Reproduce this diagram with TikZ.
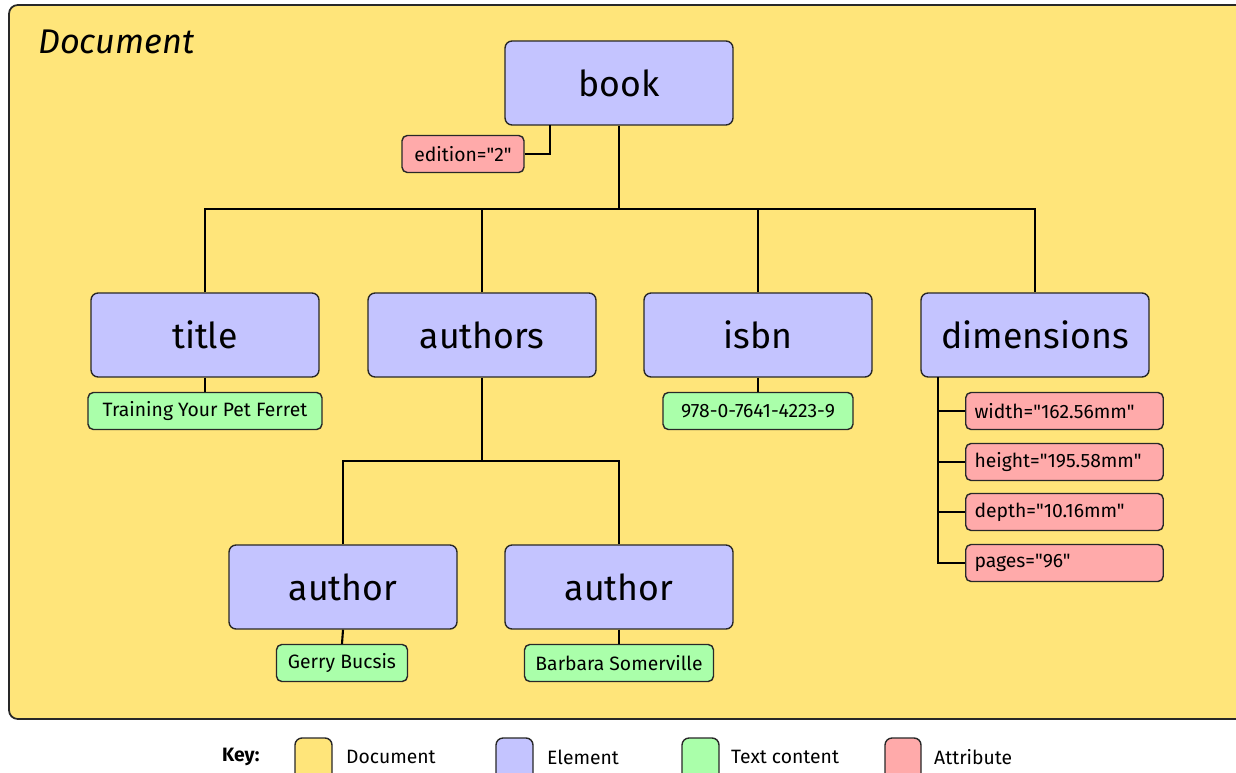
\documentclass[tikz,border=0pt]{standalone}
\usepackage{fontspec}
\setmainfont{Fira Sans}[Ligatures=TeXOff]
\definecolor{docyellow}{RGB}{255,229,122}
\definecolor{elemblue}{RGB}{196,196,255}
\definecolor{textgreen}{RGB}{170,255,170}
\definecolor{attrred}{RGB}{255,170,170}
\definecolor{edgegray}{RGB}{40,40,40}

\begin{document}
\begin{tikzpicture}[x=0.02cm, y=-0.02cm,
    element/.style={draw=edgegray, line width=0.8pt, fill=elemblue, rounded corners=4pt,
      minimum width=4.56cm, minimum height=1.68cm, font=\fontsize{20.3}{24}\selectfont},
    textbox/.style={draw=edgegray, line width=0.8pt, fill=textgreen, rounded corners=3pt,
      minimum height=0.74cm, inner xsep=4pt, font=\fontsize{11}{13}\selectfont},
    attrib/.style={draw=edgegray, line width=0.8pt, fill=attrred, rounded corners=3pt,
      minimum height=0.74cm, inner xsep=5pt, font=\fontsize{11}{13}\selectfont},
    attrwide/.style={attrib, anchor=west, text width=3.6cm, align=left},
    swatch/.style={draw=edgegray, line width=0.8pt, rounded corners=4pt},
    keytext/.style={anchor=west, font=\fontsize{11}{13}\selectfont},
    conn/.style={draw=black, line width=1.2pt}]
  \useasboundingbox (0,0) rectangle (1236,773);
  \fill[white] (0,0) rectangle (1236,773);

  % document frame
  \draw[swatch, fill=docyellow, line width=1pt, rounded corners=5pt] (9,5) rectangle (1245,719);
  \node[anchor=base west, font=\fontsize{19.5}{22}\selectfont\itshape] (doclabel) at (32,54) {Document};

  % elements
  \node[element] (book) at (619,83) {book};
  \node[element] (title) at (205,335) {title};
  \node[element] (authors) at (482,335) {authors};
  \node[element] (isbn) at (758,335) {isbn};
  \node[element] (dimensions) at (1035,335) {dimensions};
  \node[element] (author1) at (343,587) {author};
  \node[element] (author2) at (619,587) {author};

  % text content
  \node[textbox, minimum width=4.68cm] (titletext) at (205,411) {Training Your Pet Ferret};
  \node[textbox, minimum width=3.8cm] (isbntext) at (758,411) {978-0-7641-4223-9};
  \node[textbox, minimum width=2.62cm] (author1text) at (342,663) {Gerry Bucsis};
  \node[textbox, minimum width=3.78cm] (author2text) at (619,663) {Barbara Somerville};

  % attributes
  \node[attrib, minimum width=2.44cm] (edition) at (463,154) {edition="2"};
  \node[attrwide] (width) at (965,411) {width="162.56mm"};
  \node[attrwide] (height) at (965,462) {height="195.58mm"};
  \node[attrwide] (depth) at (965,512) {depth="10.16mm"};
  \node[attrwide] (pages) at (965,563) {pages="96"};

  % connectors
  \coordinate (bus) at (619,209);
  \coordinate (abus) at (482,461);
  \coordinate (edtap) at (550,125);
  \coordinate (dimtap) at (938,377);
  \draw[conn] (book.south) -- (bus);
  \draw[conn] (title.north) |- (bus) -| (dimensions.north);
  \draw[conn] (authors.north) -- (authors.north |- bus);
  \draw[conn] (isbn.north) -- (isbn.north |- bus);
  \draw[conn] (authors.south) -- (abus);
  \draw[conn] (author1.north) |- (abus) -| (author2.north);
  \draw[conn] (edition.east) -| (edtap);
  \draw[conn] (dimtap) |- (pages.west);
  \foreach \a in {width,height,depth}
    \draw[conn] (dimtap |- \a.west) -- (\a.west);
  \foreach \e/\t in {title/titletext,isbn/isbntext,author1/author1text,author2/author2text}
    \draw[conn] (\e.south) -- (\t.north);

  % key
  \node[keytext, font=\fontsize{11}{13}\selectfont\bfseries] (keylabel) at (216,757) {Key:};
  \draw[swatch, fill=docyellow] (295,738) rectangle (332,785);
  \node[keytext] (keydoc) at (340,757) {Document};
  \draw[swatch, fill=elemblue] (496,738) rectangle (533,785);
  \node[keytext] (keyelem) at (541,757) {Element};
  \draw[swatch, fill=textgreen] (682,738) rectangle (719,785);
  \node[keytext] (keytext) at (725,757) {Text content};
  \draw[swatch, fill=attrred] (885,738) rectangle (921,785);
  \node[keytext] (keyattr) at (928,757) {Attribute};
\end{tikzpicture}
\end{document}
